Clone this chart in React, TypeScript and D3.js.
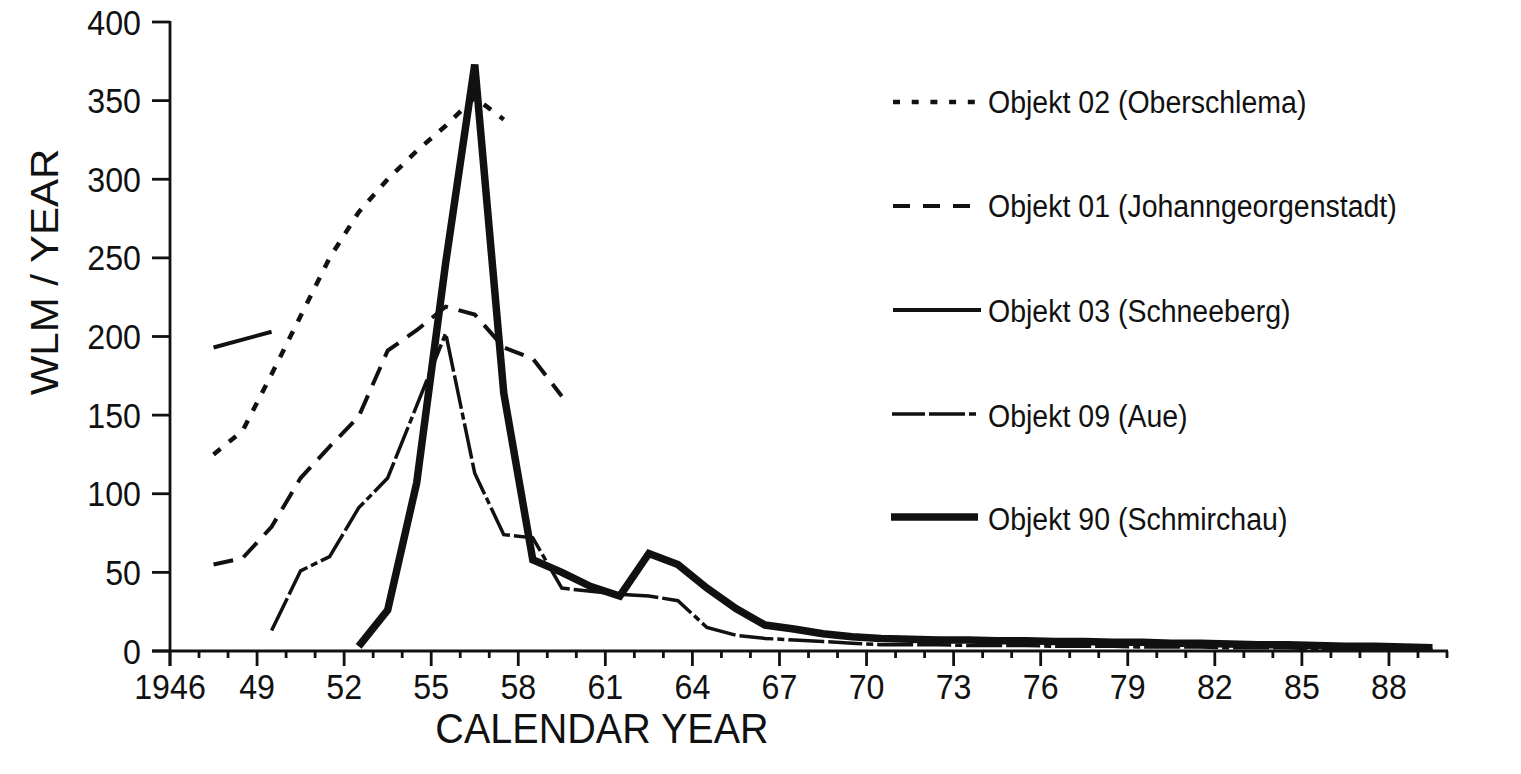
import React from "react";
import * as d3 from "d3";

// ---- data (years plotted at mid-year) ----
const obj02Years = [1947.5, 1948.5, 1949.5, 1950.5, 1951.5, 1952.5, 1953.5, 1954.5, 1955.5, 1956.5, 1957.5];
const obj02Values = [125, 140, 176, 213, 250, 279, 300, 318, 334, 352, 338];

const obj01Years = [1947.5, 1948.5, 1949.5, 1950.5, 1951.5, 1952.5, 1953.5, 1954.5, 1955.5, 1956.5, 1957.5, 1958.5, 1959.5];
const obj01Values = [55, 59, 79, 110, 130, 149, 191, 204, 219, 214, 193, 186, 162];

const obj03Years = [1947.5, 1948.5, 1949.5];
const obj03Values = [193, 198, 203];

const obj09Years = [
  1949.5, 1950.5, 1951.5, 1952.5, 1953.5, 1954.5, 1955.5, 1956.5, 1957.5, 1958.5,
  1959.5, 1960.5, 1961.5, 1962.5, 1963.5, 1964.5, 1965.5, 1966.5, 1967.5, 1968.5,
  1969.5, 1970.5, 1971.5, 1972.5, 1973.5, 1974.5, 1975.5, 1976.5, 1977.5, 1978.5,
  1979.5, 1980.5, 1981.5, 1982.5, 1983.5, 1984.5, 1985.5, 1986.5, 1987.5, 1988.5, 1989.5,
];
const obj09Values = [
  13, 51, 60, 91, 110, 156, 202, 113, 74, 72,
  40, 38, 36, 35, 32, 15, 10, 8, 7, 6,
  5, 4, 4, 4, 3.5, 3.5, 3.5, 3, 3, 3,
  2.5, 2.5, 2.5, 2, 2, 2, 1.5, 1.5, 1.5, 1, 1,
];

const obj90Years = [
  1952.5, 1953.5, 1954.5, 1955.5, 1956.5, 1957.5, 1958.5, 1959.5, 1960.5, 1961.5,
  1962.5, 1963.5, 1964.5, 1965.5, 1966.5, 1967.5, 1968.5, 1969.5, 1970.5, 1971.5,
  1972.5, 1973.5, 1974.5, 1975.5, 1976.5, 1977.5, 1978.5, 1979.5, 1980.5, 1981.5,
  1982.5, 1983.5, 1984.5, 1985.5, 1986.5, 1987.5, 1988.5, 1989.5,
];
const obj90Values = [
  3, 26, 107, 247, 373, 164, 58, 50, 41, 35,
  62, 55, 40, 27, 16.5, 14, 11, 9, 8, 7.5,
  7, 7, 6.5, 6.5, 6, 6, 5.5, 5.5, 5, 5,
  4.5, 4, 4, 3.5, 3, 3, 2.5, 2,
];

const seriesNames = [
  "Objekt 02 (Oberschlema)",
  "Objekt 01 (Johanngeorgenstadt)",
  "Objekt 03 (Schneeberg)",
  "Objekt 09 (Aue)",
  "Objekt 90 (Schmirchau)",
];

const yTicks = [0, 50, 100, 150, 200, 250, 300, 350, 400];
const xMajorTicks = [1946, 1949, 1952, 1955, 1958, 1961, 1964, 1967, 1970, 1973, 1976, 1979, 1982, 1985, 1988];
const xTickLabels = ["1946", "49", "52", "55", "58", "61", "64", "67", "70", "73", "76", "79", "82", "85", "88"];

const xTitle = "CALENDAR YEAR";
const yTitle = "WLM / YEAR";

// ---- styles ----
const styles = [
  { width: 4.5, dash: "9 11", legendDash: "7 11.7" },
  { width: 4, dash: "20 11", legendDash: "17 13" },
  { width: 4, dash: "", legendDash: "" },
  { width: 3.5, dash: "36 4 34 4 7 4", legendDash: "33 4 36 4 7 4" },
  { width: 7.5, dash: "", legendDash: "" },
];

const FONT = "'Liberation Sans', Arial, Helvetica, sans-serif";
const SQ = 0.92;

export default function App() {
  const W = 1521;
  const H = 774;
  const x = d3.scaleLinear().domain([1946, 1990]).range([170, 1447]);
  const y = d3.scaleLinear().domain([0, 400]).range([651, 22]);

  const series = [
    { years: obj02Years, values: obj02Values },
    { years: obj01Years, values: obj01Values },
    { years: obj03Years, values: obj03Values },
    { years: obj09Years, values: obj09Values },
    { years: obj90Years, values: obj90Values },
  ];

  const line = d3
    .line<[number, number]>()
    .x((d) => x(d[0]))
    .y((d) => y(d[1]));

  const minorYears = d3.range(1946, 1991);

  const legendRows = [
    { lineY: 102, x1: 893, x2: 975, textY: 113 },
    { lineY: 206, x1: 893, x2: 970, textY: 217 },
    { lineY: 310, x1: 893, x2: 981, textY: 322 },
    { lineY: 414, x1: 892, x2: 979, textY: 427 },
    { lineY: 517, x1: 891, x2: 978, textY: 530 },
  ];

  return (
    <svg
      width={W}
      height={H}
      style={{ position: "absolute", left: 0, top: 0, background: "#fff" }}
      fontFamily={FONT}
    >
      <rect x={0} y={0} width={W} height={H} fill="#fff" />
      {/* series */}
      {series.map((s, i) => (
        <path
          key={i}
          d={line(s.years.map((yr, j) => [yr, s.values[j]] as [number, number])) || ""}
          fill="none"
          stroke="#111"
          strokeWidth={styles[i].width}
          strokeDasharray={styles[i].dash || undefined}
          strokeLinejoin="miter"
          strokeMiterlimit={4}
          strokeLinecap="butt"
        />
      ))}

      {/* axes */}
      <g stroke="#111" strokeWidth={2.8} fill="none">
        <line x1={x(1946)} x2={x(1946)} y1={y(400) - 1} y2={666} />
        <line x1={152} x2={x(1990) + 1} y1={y(0)} y2={y(0)} />
        {yTicks.map((t) => (
          <line key={"yt" + t} x1={152} x2={x(1946)} y1={y(t)} y2={y(t)} />
        ))}
        {minorYears.map((yr) => {
          const major = (yr - 1946) % 3 === 0;
          return <line key={"xt" + yr} x1={x(yr)} x2={x(yr)} y1={y(0)} y2={major ? 666 : 658} />;
        })}
      </g>

      {/* y tick labels */}
      {yTicks.map((t) => (
        <text
          key={"yl" + t}
          transform={`translate(141,${y(t) + 12.5}) scale(${SQ},1)`}
          textAnchor="end"
          fontSize={35}
          fill="#111"
        >
          {String(t)}
        </text>
      ))}

      {/* x tick labels */}
      {xMajorTicks.map((t, i) => (
        <text
          key={"xl" + t}
          transform={`translate(${x(t)},699) scale(${SQ},1)`}
          textAnchor="middle"
          fontSize={35}
          fill="#111"
        >
          {xTickLabels[i]}
        </text>
      ))}

      {/* axis titles */}
      <text
        transform={`translate(602,743) scale(${SQ},1)`}
        textAnchor="middle"
        fontSize={43}
        fill="#111"
      >
        {xTitle}
      </text>
      <text
        transform={`translate(58,272) rotate(-90) scale(1,${SQ})`}
        textAnchor="middle"
        fontSize={42}
        fill="#111"
      >
        {yTitle}
      </text>

      {/* legend */}
      {legendRows.map((r, i) => (
        <g key={"lg" + i}>
          <line
            x1={r.x1}
            x2={r.x2}
            y1={r.lineY}
            y2={r.lineY}
            stroke="#111"
            strokeWidth={styles[i].width}
            strokeDasharray={styles[i].legendDash || undefined}
          />
          <text
            transform={`translate(988,${r.textY}) scale(${SQ},1)`}
            fontSize={31}
            fill="#111"
          >
            {seriesNames[i]}
          </text>
        </g>
      ))}
    </svg>
  );
}
